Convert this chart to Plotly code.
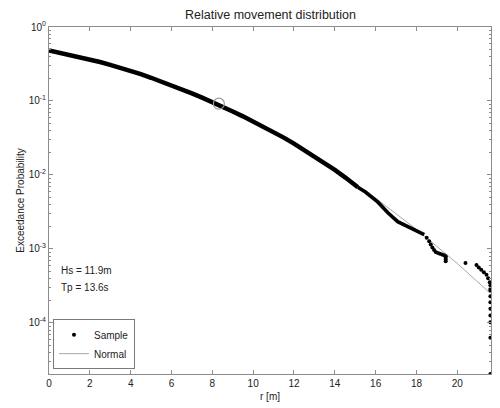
import plotly.graph_objects as go

# Sample exceedance curve: dense body (r in m, probability)
r_body = [0, 0.5, 1, 1.5, 2, 2.5, 3, 3.5, 4, 4.5, 5, 5.5, 6, 6.5, 7, 7.5,
          8, 8.5, 9, 9.5, 10, 10.5, 11, 11.5, 12, 12.5, 13, 13.5, 14, 14.5, 15.13]
p_body = [0.484, 0.452, 0.423, 0.394, 0.365, 0.336, 0.308, 0.282, 0.255, 0.230,
          0.206, 0.184, 0.163, 0.144, 0.127, 0.111, 0.097, 0.084, 0.072, 0.062,
          0.053, 0.045, 0.038, 0.032, 0.0265, 0.0218, 0.0178, 0.0145, 0.0117, 0.0093,
          0.00684]

# Sample exceedance curve: closely spaced points past the body
r_mid = [15.13, 15.5, 16.1, 16.6, 17.08, 17.57, 18.05, 18.38]
p_mid = [0.00684, 0.00589, 0.00432, 0.00309, 0.00234, 0.0020, 0.00174, 0.00156]

# Sample exceedance curve: sparse upper tail
r_tail = [18.5, 18.62, 18.7, 18.78, 18.86, 18.94, 19.05, 19.15, 19.25, 19.35,
          19.43, 19.43, 19.43, 19.43, 20.4, 20.94, 21.05, 21.17, 21.3,
          21.43, 21.51, 21.59, 21.62, 21.62, 21.62, 21.62, 21.62, 21.62, 21.62,
          21.62, 21.62, 21.62]
p_tail = [0.00142, 0.00127, 0.00115, 0.00105, 0.00097, 0.00091, 0.00088, 0.00086,
          0.00084, 0.00082, 0.00080, 0.00076, 0.00072, 0.00068, 0.000646, 0.000605,
          0.000562, 0.000525, 0.000483, 0.000447, 0.000403, 0.000355, 0.000324,
          0.000288, 0.000275, 0.000229, 0.000191, 0.000155, 0.000126, 0.000102,
          0.000063, 0.0000204]

# Fitted normal exceedance curve
r_normal = [0, 2, 4, 6, 8, 10, 12, 14, 16, 18, 20, 21.6]
p_normal = [0.481, 0.357, 0.247, 0.159, 0.0939, 0.0510, 0.0255, 0.0116, 0.00484,
            0.00184, 0.000636, 0.000254]

# Highlighted design point
r_mark = [8.32]
p_mark = [0.092]

x_ticks = [0, 2, 4, 6, 8, 10, 12, 14, 16, 18, 20]
y_ticks = [1e-4, 1e-3, 1e-2, 1e-1, 1]
y_labels = ["10<sup>-4</sup>", "10<sup>-3</sup>", "10<sup>-2</sup>", "10<sup>-1</sup>", "10<sup>0</sup>"]

font = "Liberation Sans, Arial, sans-serif"
axis_grey = "#8c8c8c"

fig = go.Figure()

fig.add_trace(go.Scatter(
    x=r_normal, y=p_normal, mode="lines", name="Normal",
    line=dict(color="#a8a8a8", width=1), legendrank=2))

fig.add_trace(go.Scatter(
    x=r_body, y=p_body, mode="lines", showlegend=False,
    line=dict(color="black", width=4.5)))

fig.add_trace(go.Scatter(
    x=r_mid, y=p_mid, mode="lines", showlegend=False,
    line=dict(color="black", width=3.6)))

fig.add_trace(go.Scatter(
    x=r_tail, y=p_tail, mode="markers", name="Sample",
    marker=dict(color="black", size=4), legendrank=1))

fig.add_trace(go.Scatter(
    x=r_mark, y=p_mark, mode="markers", showlegend=False,
    marker=dict(symbol="circle-open", color="#9a9a9a", size=11, line=dict(width=1.2))))

fig.add_annotation(x=0.5, y=-3.29, xref="x", yref="y", text="Hs = 11.9m",
                   showarrow=False, xanchor="left", font=dict(size=10, color="#222"))
fig.add_annotation(x=0.5, y=-3.52, xref="x", yref="y", text="Tp = 13.6s",
                   showarrow=False, xanchor="left", font=dict(size=10, color="#222"))

fig.update_layout(
    width=500, height=408,
    margin=dict(l=49, r=8, t=27, b=28),
    paper_bgcolor="white", plot_bgcolor="white",
    font=dict(family=font, size=10, color="#222"),
    title=dict(text="Relative movement distribution", x=0.541, xanchor="center",
               y=0.963, yanchor="middle", font=dict(size=12.5, color="#222")),
    showlegend=True,
    legend=dict(x=0.009, y=0.014, xanchor="left", yanchor="bottom",
                bordercolor="#7a7a7a", borderwidth=1, bgcolor="white",
                font=dict(size=10), tracegroupgap=0, itemwidth=30),
)

fig.update_xaxes(
    range=[0, 21.65], tickvals=x_ticks, showgrid=False, zeroline=False,
    showline=True, linecolor=axis_grey, linewidth=1, mirror="allticks",
    ticks="inside", ticklen=4, tickcolor=axis_grey,
    title=dict(text="r [m]", standoff=4, font=dict(size=10)),
)

fig.update_yaxes(
    type="log", range=[-4.69, 0], tickvals=y_ticks, ticktext=y_labels,
    showgrid=False, zeroline=False,
    showline=True, linecolor=axis_grey, linewidth=1, mirror="allticks",
    ticks="inside", ticklen=4, tickcolor=axis_grey,
    minor=dict(ticks="inside", ticklen=2, tickcolor=axis_grey, dtick="D1", showgrid=False),
    title=dict(text="Exceedance Probability", standoff=2, font=dict(size=10)),
)

fig.write_html("out.html")
